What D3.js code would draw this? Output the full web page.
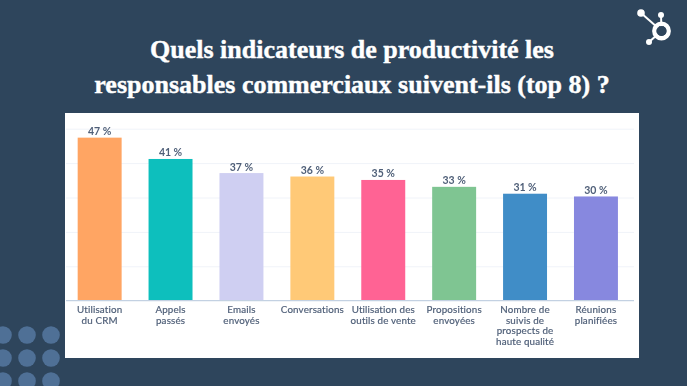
<!DOCTYPE html>
<html>
<head>
<meta charset="utf-8">
<script src="https://cdn.jsdelivr.net/npm/d3@7"></script>
<style>
html, body { margin: 0; padding: 0; background: #2e455c; overflow: hidden; }
svg { display: block; }
</style>
</head>
<body>
<div id="chart"></div>
<script>
const width = 687, height = 386;

// Values
const categories = ["crm", "appels", "emails", "conv", "outils", "props", "suivis", "reunions"];
const labelLines = [
    ["Utilisation", "du CRM"],
    ["Appels", "passés"],
    ["Emails", "envoyés"],
    ["Conversations"],
    ["Utilisation des", "outils de vente"],
    ["Propositions", "envoyées"],
    ["Nombre de", "suivis de", "prospects de", "haute qualité"],
    ["Réunions", "planifiées"]
];
const values = [47.4, 41.2, 37.1, 36.1, 35.1, 33.1, 31.1, 30.3];
const barColors = ["#ffa564", "#10bfbd", "#cfcff2", "#ffc977", "#ff6394", "#7fc592", "#418dc7", "#8788df"];
const gridTicks = [10, 20, 30, 40, 50];
const titleLines = ["Quels indicateurs de productivité les", "responsables commerciaux suivent-ils (top 8) ?"];
const dotCols = [3, 27, 51], dotRows = [335, 358, 381];

const svg = d3.select("#chart")
    .append("svg")
    .attr("width", width)
    .attr("height", height)
    .attr("viewBox", [0, 0, width, height]);

svg.append("rect").attr("width", width).attr("height", height).attr("fill", "#2e455c");

// Slight softness, the panel in the reference is a scaled screenshot
svg.append("defs").append("filter").attr("id", "soft")
    .append("feGaussianBlur").attr("stdDeviation", 0.35);

// Dots bottom left
svg.append("g").selectAll("circle")
    .data(d3.cross(dotCols, dotRows))
    .join("circle")
    .attr("cx", d => d[0])
    .attr("cy", d => d[1])
    .attr("r", 8.8)
    .attr("fill", "#4f7096");

// Title
svg.append("g").selectAll("text")
    .data(titleLines)
    .join("text")
    .attr("x", 352)
    .attr("y", (d, i) => 58 + i * 35)
    .attr("text-anchor", "middle")
    .attr("font-family", "Liberation Serif")
    .attr("font-weight", "bold")
    .attr("font-size", 26)
    .attr("stroke", "#fff")
    .attr("stroke-width", 0.4)
    .attr("fill", "#fff")
    .text(d => d);

// HubSpot sprocket
const logo = svg.append("g").attr("fill", "#fff").attr("stroke", "#fff");
logo.append("circle").attr("cx", 661.5).attr("cy", 31).attr("r", 7.2).attr("fill", "none").attr("stroke-width", 4.4);
[[641, 13, 3.8], [661, 15, 3], [649, 42, 3]].forEach(([x, y, r]) => {
    logo.append("circle").attr("cx", x).attr("cy", y).attr("r", r).attr("stroke", "none");
    logo.append("line").attr("x1", x).attr("y1", y).attr("x2", 661.5).attr("y2", 31)
        .attr("stroke-width", 2);
});
logo.append("circle").attr("cx", 661.5).attr("cy", 31).attr("r", 5).attr("fill", "#2e455c").attr("stroke", "none");

// White panel
svg.append("rect")
    .attr("x", 65).attr("y", 113)
    .attr("width", 574).attr("height", 245)
    .attr("fill", "#fff");

const g = svg.append("g").attr("filter", "url(#soft)");

const x = d3.scaleBand()
    .domain(categories)
    .range([64.2, 631.4])
    .paddingInner(0.38)
    .paddingOuter(0.19);

const y = d3.scaleLinear()
    .domain([0, 50])
    .range([300.7, 128.7]);

// Gridlines
const grid = g.append("g")
    .attr("transform", "translate(66,0)")
    .call(d3.axisRight(y).tickValues(gridTicks).tickSize(568).tickFormat(""));
grid.select(".domain").remove();
grid.selectAll("line").attr("stroke", "#f0f3f9").attr("stroke-width", 1);

// Bars
g.append("g").selectAll("rect")
    .data(categories)
    .join("rect")
    .attr("x", d => x(d))
    .attr("y", (d, i) => y(values[i]))
    .attr("width", x.bandwidth())
    .attr("height", (d, i) => y(0) - y(values[i]))
    .attr("fill", (d, i) => barColors[i]);

// Value labels
g.append("g").selectAll("text")
    .data(categories)
    .join("text")
    .attr("x", d => x(d) + x.bandwidth() / 2)
    .attr("y", (d, i) => y(values[i]) - 2.5)
    .attr("text-anchor", "middle")
    .attr("font-family", "Lato")
    .attr("font-weight", "bold")
    .attr("font-size", 10.5)
    .attr("fill", "#4f5f78")
    .text((d, i) => `${Math.round(values[i])} %`);

// Category axis
const axis = g.append("g")
    .attr("transform", `translate(0,${y(0)})`)
    .call(d3.axisBottom(x).tickSize(0).tickFormat(""));
axis.select(".domain")
    .attr("d", "M66,0H634")
    .attr("stroke", "#c3d1e2")
    .attr("stroke-width", 1.2);

axis.selectAll(".tick text").remove();
axis.selectAll(".tick").append("text")
    .attr("text-anchor", "middle")
    .attr("font-family", "Lato")
    .attr("font-size", 9.8)
    .attr("letter-spacing", 0.15)
    .attr("stroke", "#4f5f78")
    .attr("stroke-width", 0.2)
    .attr("fill", "#4f5f78")
    .selectAll("tspan")
    .data((d, i) => labelLines[i])
    .join("tspan")
    .attr("x", 0)
    .attr("y", (d, i) => 12.8 + i * 10.5)
    .text(d => d);
</script>
</body>
</html>
